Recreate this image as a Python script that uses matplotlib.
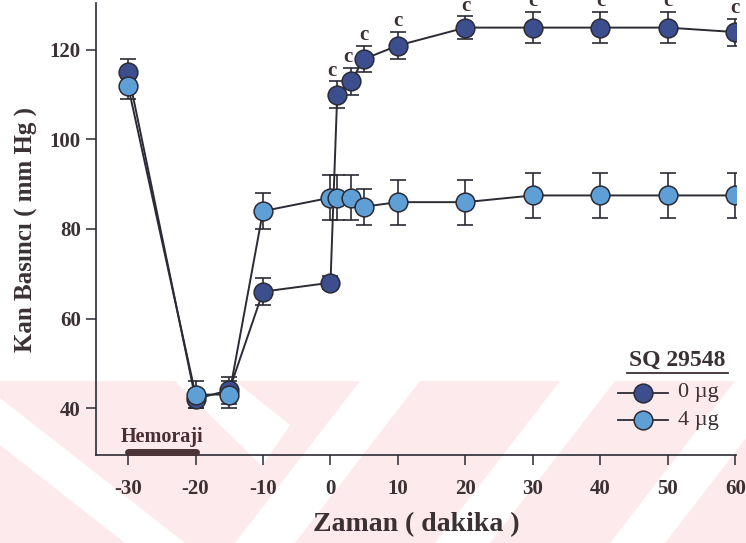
import matplotlib.pyplot as plt
from matplotlib.patches import Polygon
from matplotlib.lines import Line2D

# time points (minutes) and mean blood pressure (mm Hg)
zaman = [-30, -20, -15, -10, 0, 1, 3, 5, 10, 20, 30, 40, 50, 60]
doz_0 = [115, 42, 44, 66, 68, 110, 113, 118, 121, 125, 125, 125, 125, 124]
hata_0 = [3, 2, 3, 3, 1.5, 3, 3, 3, 3, 2.5, 3.5, 3.5, 3.5, 3]
doz_4 = [112, 43, 43, 84, 87, 87, 87, 85, 86, 86, 87.5, 87.5, 87.5, 87.5]
hata_4 = [3, 3, 3, 4, 5, 5, 5, 4, 5, 5, 5, 5, 5, 5]
# significance marks over the 0 ug series
isaret = ['', '', '', '', '', 'c', 'c', 'c', 'c', 'c', 'c', 'c', 'c', 'c']

koyu = '#3d4e8f'
acik = '#5e9fd6'
kenar = '#2b2b35'
yazi = '#3b3033'

plt.rcParams['font.family'] = ['Liberation Serif', 'DejaVu Serif']
plt.rcParams['axes.unicode_minus'] = False

fig = plt.figure(figsize=(7.46, 5.43), dpi=100)
W, H = 746, 543

def px(pts):
    return [(x / W, 1 - y / H) for x, y in pts]

# faint diagonal background band
fig.add_artist(Polygon(px([(0, 381), (W, 381), (W, H), (0, H)]), closed=True,
                       facecolor='#fdeaec', edgecolor='none',
                       transform=fig.transFigure, zorder=0))
beyaz = [
    [(0, 398), (185, 543), (125, 543), (0, 445)],
    [(175, 381), (235, 381), (290, 425), (262, 466)],
    [(360, 381), (420, 381), (295, 543), (235, 543)],
    [(560, 381), (615, 381), (490, 543), (435, 543)],
    [(735, 381), (790, 381), (665, 543), (610, 543)],
]
for s in beyaz:
    fig.add_artist(Polygon(px(s), closed=True, facecolor='white', edgecolor='none',
                           transform=fig.transFigure, zorder=0))

ax = fig.add_axes([96 / W, 1 - 455 / H, 640 / W, 452 / H])
ax.set_facecolor('none')

ax.errorbar(zaman, doz_0, yerr=hata_0, fmt='none', ecolor=kenar, elinewidth=1.2,
            capsize=6, capthick=1.2, zorder=2)
ax.errorbar(zaman, doz_4, yerr=hata_4, fmt='none', ecolor=kenar, elinewidth=1.2,
            capsize=6, capthick=1.2, zorder=2)
ax.plot(zaman, doz_0, color=kenar, lw=1.4, zorder=3)
ax.plot(zaman, doz_4, color=kenar, lw=1.4, zorder=3)
ax.plot(zaman, doz_0, 'o', ms=13.5, mfc=koyu, mec=kenar, mew=1.1, zorder=4)
ax.plot(zaman, doz_4, 'o', ms=13.5, mfc=acik, mec=kenar, mew=1.1, zorder=5)

# crowded early marks are nudged left a little
kaydir = {1: -0.8, 3: -0.4}
for x, y, e, s in zip(zaman, doz_0, hata_0, isaret):
    if s:
        ax.text(x + kaydir.get(x, 0), y + e + 2.4, s, ha='center', va='center',
                fontsize=15, fontweight='bold', color=yazi, clip_on=False)

ax.set_xlim(-34.75, 60.1)
ax.set_ylim(29.5, 130.5)
ax.set_xticks(range(-30, 61, 10))
ax.set_yticks(range(40, 121, 20))
ax.tick_params(axis='both', direction='out', length=7, width=1.1, colors=kenar,
               labelsize=15, labelcolor=yazi)
ax.tick_params(axis='x', pad=10)
ax.tick_params(axis='y', pad=4)
for lbl in ax.get_xticklabels() + ax.get_yticklabels():
    lbl.set_fontweight('bold')

for side in ['top', 'right']:
    ax.spines[side].set_visible(False)
for side in ['left', 'bottom']:
    ax.spines[side].set_color(kenar)
    ax.spines[side].set_linewidth(1.2)

ax.set_xlabel('Zaman ( dakika )', fontsize=20, fontweight='bold', color=yazi, labelpad=10)
ax.set_ylabel('Kan Basıncı ( mm Hg )', fontsize=18, fontweight='bold', color=yazi, labelpad=8)

# hemorrhage period
ax.plot([-30, -20], [30.2, 30.2], color='#4a3236', lw=5, solid_capstyle='round',
        clip_on=False, zorder=6)
ax.text(-25, 33.6, 'Hemoraji', ha='center', va='center', fontsize=14.5,
        fontweight='bold', color='#4a2c33')

# legend
fig.text(677 / W, 1 - 360 / H, 'SQ 29548', ha='center', va='center', fontsize=17,
         fontweight='bold', color=yazi)
fig.add_artist(Line2D([627 / W, 728 / W], [1 - 373 / H, 1 - 373 / H],
                      color=yazi, lw=1.3, transform=fig.transFigure))
for yy, renk, ad in [(393, koyu, '0 µg'), (420, acik, '4 µg')]:
    fig.add_artist(Line2D([618 / W, 668 / W], [1 - yy / H] * 2, color=kenar, lw=1.3,
                          transform=fig.transFigure))
    fig.add_artist(Line2D([643 / W], [1 - yy / H], marker='o', ms=13.5, mfc=renk,
                          mec=kenar, mew=1.1, transform=fig.transFigure))
    fig.text(678 / W, 1 - yy / H, ad, ha='left', va='center', fontsize=16, color=yazi)

fig.savefig('out.png', dpi=100)
